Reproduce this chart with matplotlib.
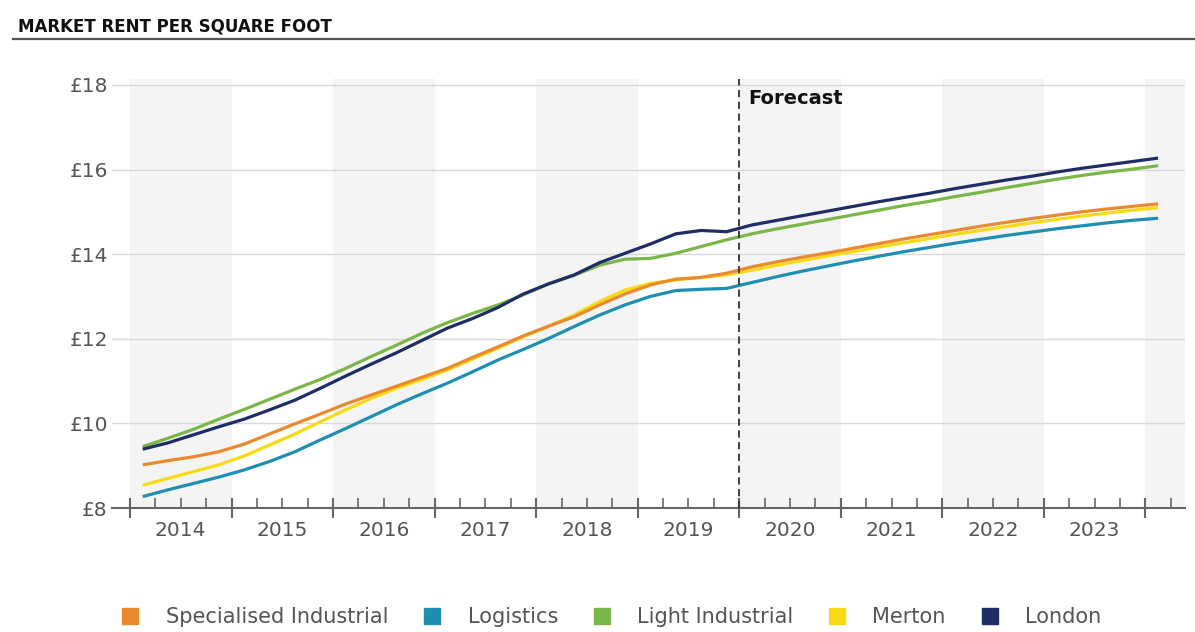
import matplotlib.pyplot as plt
import numpy as np
from matplotlib.lines import Line2D

# quarterly values, 2014 Q1 .. 2024 Q1
start_year = 2014
forecast_year = 2020
years = list(range(2014, 2024))

spec = [9.02, 9.12, 9.21, 9.33, 9.51, 9.75, 9.99, 10.22, 10.46, 10.67, 10.88, 11.09,
        11.30, 11.56, 11.81, 12.07, 12.30, 12.52, 12.80, 13.06, 13.27, 13.41, 13.45, 13.55,
        13.70, 13.82, 13.93, 14.03, 14.14, 14.25, 14.36, 14.46, 14.56, 14.66, 14.75, 14.84,
        14.92, 15.00, 15.07, 15.13, 15.19]
logistics = [8.27, 8.43, 8.58, 8.73, 8.90, 9.10, 9.33, 9.61, 9.88, 10.16, 10.44, 10.70,
             10.95, 11.22, 11.50, 11.75, 12.01, 12.29, 12.56, 12.80, 13.00, 13.14, 13.17, 13.19,
             13.33, 13.47, 13.60, 13.72, 13.84, 13.95, 14.06, 14.16, 14.26, 14.35, 14.44, 14.52,
             14.60, 14.67, 14.74, 14.80, 14.85]
light = [9.45, 9.65, 9.86, 10.10, 10.33, 10.57, 10.81, 11.04, 11.30, 11.58, 11.85, 12.13,
         12.38, 12.60, 12.80, 13.04, 13.30, 13.50, 13.74, 13.88, 13.90, 14.02, 14.18, 14.34,
         14.48, 14.60, 14.71, 14.82, 14.93, 15.04, 15.15, 15.25, 15.36, 15.46, 15.57, 15.67,
         15.77, 15.86, 15.94, 16.01, 16.09]
merton = [8.54, 8.70, 8.86, 9.02, 9.23, 9.49, 9.75, 10.04, 10.32, 10.59, 10.83, 11.04,
          11.26, 11.52, 11.78, 12.05, 12.30, 12.56, 12.88, 13.15, 13.31, 13.39, 13.45, 13.51,
          13.62, 13.74, 13.85, 13.96, 14.06, 14.17, 14.27, 14.37, 14.47, 14.56, 14.65, 14.74,
          14.82, 14.90, 14.97, 15.04, 15.10]
london = [9.39, 9.54, 9.73, 9.92, 10.10, 10.32, 10.55, 10.83, 11.12, 11.40, 11.67, 11.96,
          12.25, 12.48, 12.74, 13.06, 13.30, 13.51, 13.80, 14.02, 14.24, 14.48, 14.56, 14.53,
          14.69, 14.80, 14.91, 15.02, 15.13, 15.24, 15.34, 15.44, 15.55, 15.65, 15.75, 15.84,
          15.94, 16.03, 16.11, 16.19, 16.27]

names = ['Specialised Industrial', 'Logistics', 'Light Industrial', 'Merton', 'London']
colors = ['#EA8A2E', '#1E8FB0', '#7AB648', '#F7DA12', '#1E2D66']
series = [spec, logistics, light, merton, london]
yticks = [8, 10, 12, 14, 16, 18]

x = start_year + (np.arange(len(london)) + 0.5) / 4

fig = plt.figure(figsize=(11.95, 6.32), dpi=100)
ax = fig.add_axes([112 / 1195, 1 - 508 / 632, 1073 / 1195, 429 / 632])

# alternating year bands
for y0 in range(2014, 2025, 2):
    ax.axvspan(y0, y0 + 1, color='#F4F4F4', lw=0, zorder=0)

ax.grid(axis='y', color='#D8D8D8', lw=1, zorder=1)

order = [1, 3, 0, 2, 4]
for i in order:
    ax.plot(x, series[i], color=colors[i], lw=2.3, zorder=3, solid_capstyle='butt')

ax.axvline(forecast_year, color='#333333', lw=1.3, ls=(0, (4, 2.5)), zorder=4)
ax.text(forecast_year + 0.09, 17.68, 'Forecast', fontsize=14, fontweight='bold',
        color='#111111', va='center', ha='left')

ax.set_xlim(2013.823, 2024.39)
ax.set_ylim(8, 18.14)
ax.set_yticks(yticks, ['£%d' % v for v in yticks])
ax.tick_params(axis='y', length=0, pad=3, labelsize=14.5, labelcolor='#555555')

ax.set_xticks(range(2014, 2025))
ax.set_xticks([q / 4 for q in range(2014 * 4, 2024 * 4 + 2) if q % 4], minor=True)
ax.tick_params(axis='x', which='major', direction='inout', length=15, width=1.5,
               color='#666666', labelbottom=False)
ax.tick_params(axis='x', which='minor', direction='in', length=7, width=1.2, color='#666666')

sec = ax.secondary_xaxis('bottom')
sec.set_xticks([y + 0.5 for y in years], [str(y) for y in years])
sec.tick_params(length=0, pad=9, labelsize=14.5, labelcolor='#555555')
sec.spines['bottom'].set_visible(False)

for s in ['top', 'right', 'left']:
    ax.spines[s].set_visible(False)
ax.spines['bottom'].set_color('#666666')
ax.spines['bottom'].set_linewidth(1.5)

handles = [Line2D([], [], marker='s', ls='', markersize=11, color=c) for c in colors]
fig.legend(handles, names, ncol=5, loc='center', bbox_to_anchor=(0.511, 1 - 617 / 632),
           frameon=False, fontsize=15, labelcolor='#555555', handletextpad=1.2,
           columnspacing=1.6, handlelength=1.0)

fig.text(18 / 1195, 1 - 27 / 632, 'MARKET RENT PER SQUARE FOOT', fontsize=12,
         fontweight='bold', color='#111111', va='center', ha='left')
fig.add_artist(Line2D([13 / 1195, 1], [1 - 39 / 632] * 2, color='#555555', lw=1.6))

fig.savefig('out.png', dpi=100)
